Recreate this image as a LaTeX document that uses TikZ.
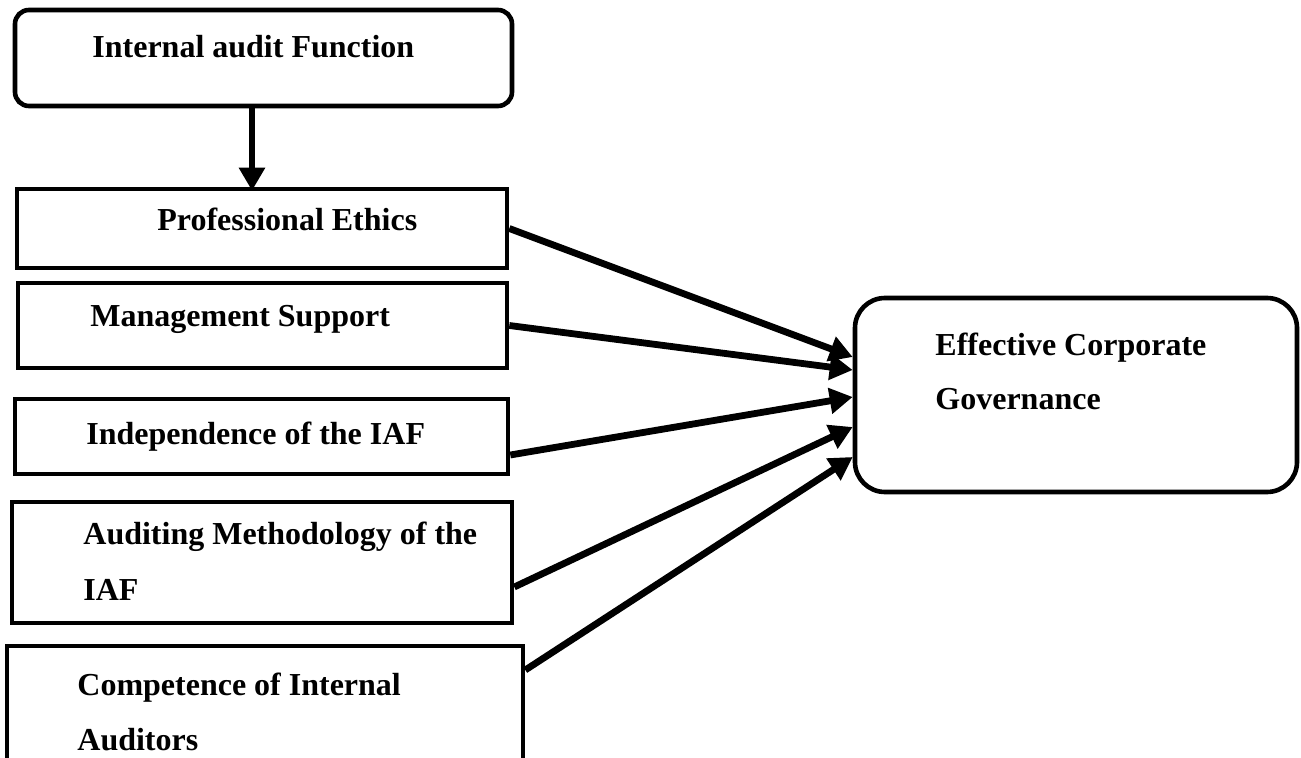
\documentclass[tikz,border=0pt]{standalone}
\usepackage{fontspec}
\setmainfont{Liberation Serif}
\usetikzlibrary{arrows.meta,fit}
\begin{document}
\begin{tikzpicture}[x=0.5pt,y=-0.5pt,
  box/.style={draw=black, line width=2.3pt, inner sep=0pt, fill=white},
  rbox/.style={box, rounded corners=7pt},
  bigrbox/.style={box, rounded corners=15pt},
  lbl/.style={anchor=base west, inner sep=0pt, font=\fontsize{16}{19}\selectfont\bfseries},
  arr/.style={line width=3.4pt, -{Triangle[length=11.5pt,width=12.5pt]}}]
\useasboundingbox (0,0) rectangle (1301,758);
\clip (0,0) rectangle (1301,758);
% boxes
\node[rbox, fit={(15,10) (512,106)}] (top) {};
\node[box, fit={(17,189) (507,268)}] (pe) {};
\node[box, fit={(18,283) (507,368)}] (ms) {};
\node[box, fit={(15,399) (508,474)}] (ind) {};
\node[box, fit={(12,502) (512,623)}] (am) {};
\node[box, fit={(7,646) (523,762)}] (comp) {};
\node[bigrbox, fit={(855,298) (1297,492)}] (eff) {};
% texts
\node[lbl] (toptxt) at (92,58) {Internal audit Function};
\node[lbl] (petxt) at (157,231) {Professional Ethics};
\node[lbl] (mstxt) at (90,327) {Management Support};
\node[lbl] (indtxt) at (86,445) {Independence of the IAF};
\node[lbl] (amtxta) at (83,545) {Auditing Methodology of the};
\node[lbl] (amtxtb) at (83,601) {IAF};
\node[lbl] (comptxta) at (77,695) {Competence of Internal};
\node[lbl] (comptxtb) at (77,750) {Auditors};
\node[lbl] (efftxta) at (935,356) {Effective Corporate};
\node[lbl] (efftxtb) at (935,410) {Governance};
% connector anchor points
\coordinate (ax) at (252,0);
\coordinate (s3) at (ind.east |- 0,455);
\coordinate (s4) at (am.east |- 0,587);
\coordinate (s5) at (comp.east |- 0,670);
\coordinate (e1) at (eff.west |- 0,357);
\coordinate (e2) at (eff.west |- 0,370);
\coordinate (e3) at (eff.west |- 0,397);
\coordinate (e4) at (eff.west |- 0,427);
\coordinate (e5) at (eff.west |- 0,457);
\coordinate (pin) at ([yshift=-2pt]pe.north -| ax);
% connectors
\draw[arr] (top.south -| ax) -- (pin);
\draw[arr] (pe.east) -- (e1);
\draw[arr] (ms.east) -- (e2);
\draw[arr] (s3) -- (e3);
\draw[arr] (s4) -- (e4);
\draw[arr] (s5) -- (e5);
\end{tikzpicture}
\end{document}
